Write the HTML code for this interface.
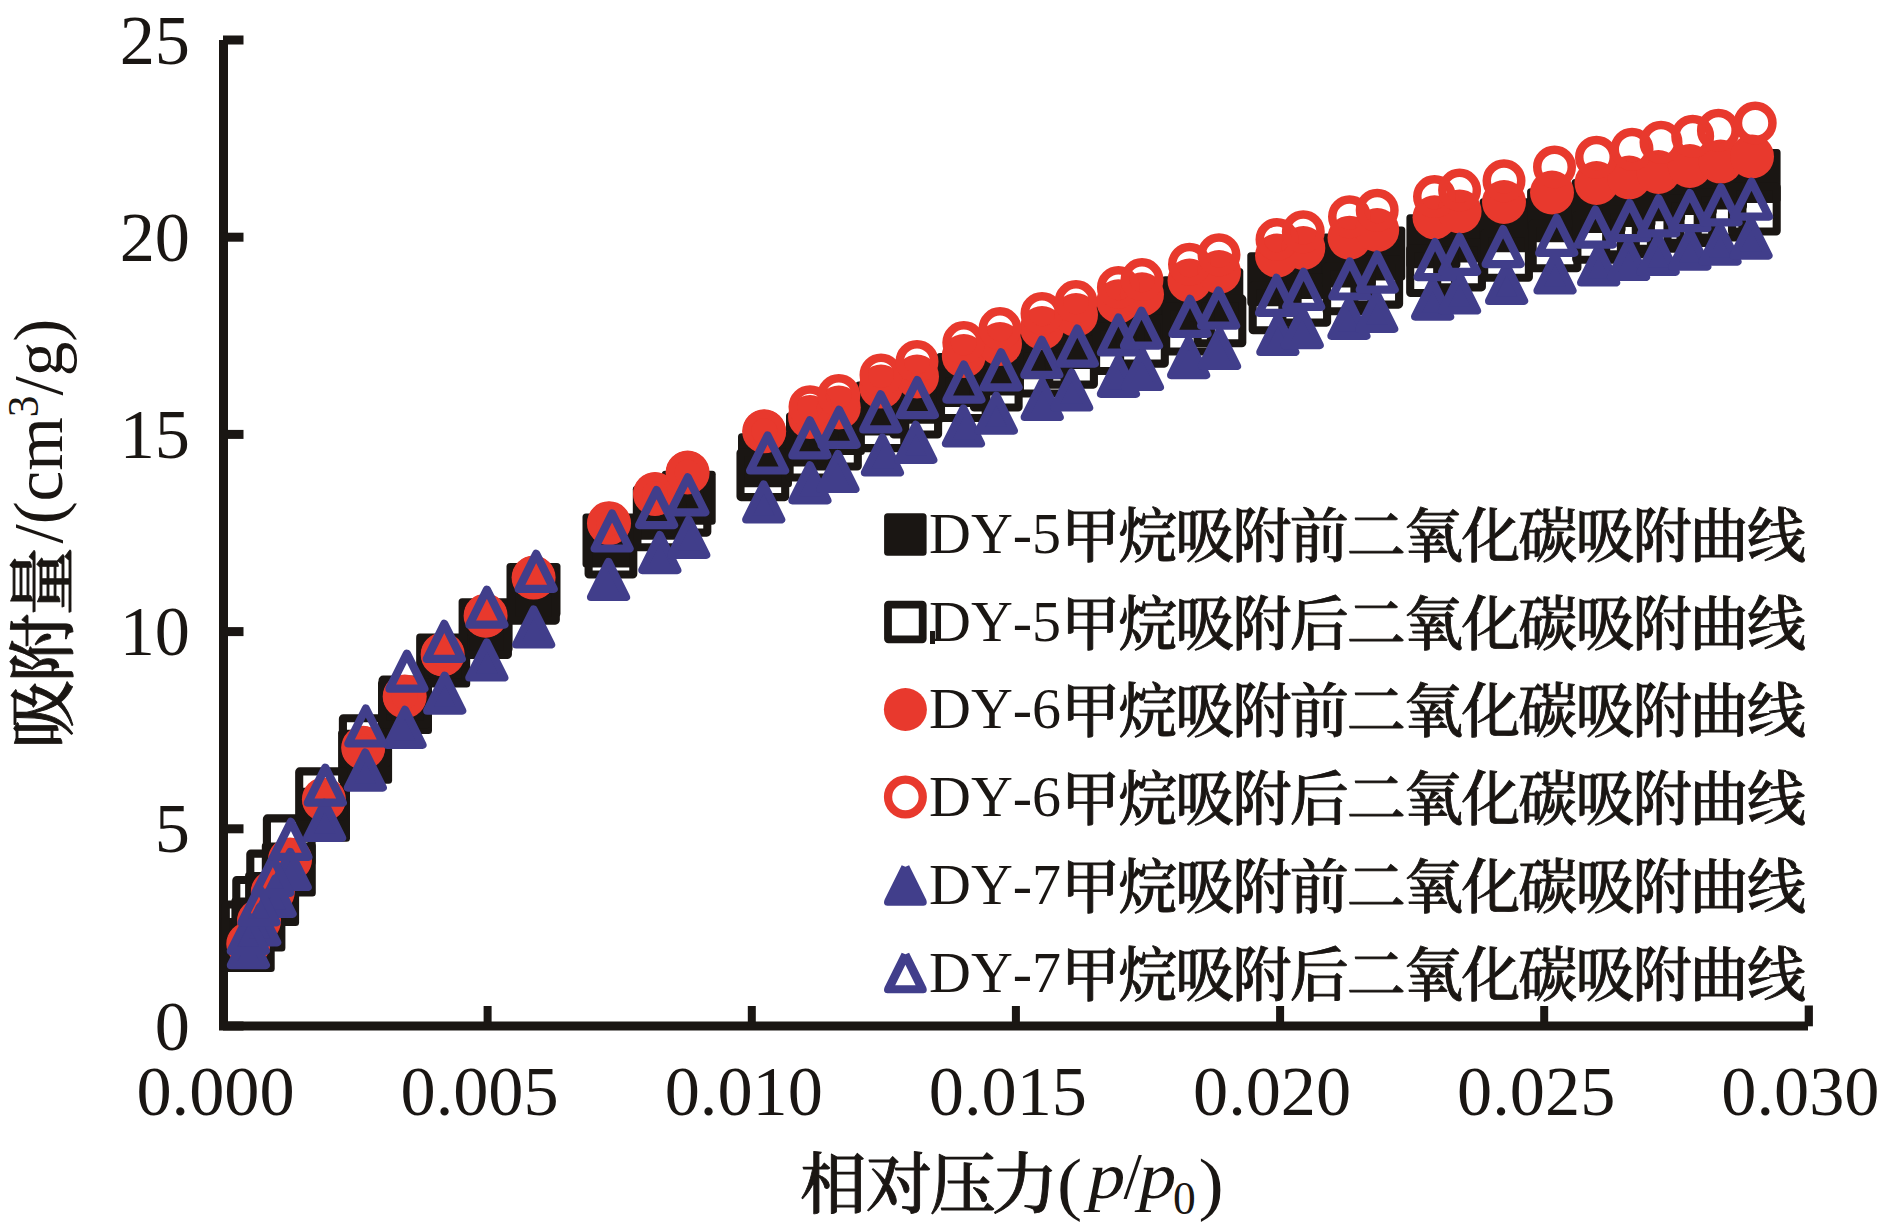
<!DOCTYPE html>
<html lang="zh"><head><meta charset="utf-8"><title>吸附曲线</title>
<style>
html,body{margin:0;padding:0;background:#fff;}
body{width:1890px;height:1226px;overflow:hidden;}
svg{display:block;}
text{fill:#1a1613;font-family:"Liberation Serif","Noto Serif CJK SC",serif;}
.cjk{font-family:"Liberation Serif","Noto Serif CJK SC",serif;font-weight:500;stroke:#1a1613;stroke-width:0.9px;stroke-linejoin:round;}
</style></head><body>
<svg width="1890" height="1226" viewBox="0 0 1890 1226">
<rect width="1890" height="1226" fill="#fff"/>

<g fill="#1a1613">
<rect x="219" y="40" width="9" height="990"/>
<rect x="219" y="1021.5" width="1589" height="9"/>
<rect x="223" y="1021.5" width="20.5" height="9"/>
<rect x="223" y="824.3" width="20.5" height="9"/>
<rect x="223" y="627.1" width="20.5" height="9"/>
<rect x="223" y="429.9" width="20.5" height="9"/>
<rect x="223" y="232.7" width="20.5" height="9"/>
<rect x="223" y="35.5" width="20.5" height="9"/>
<rect x="483.6" y="1006" width="8" height="20"/>
<rect x="747.8" y="1006" width="8" height="20"/>
<rect x="1011.9" y="1006" width="8" height="20"/>
<rect x="1276.1" y="1006" width="8" height="20"/>
<rect x="1540.2" y="1006" width="8" height="20"/>
<rect x="1804.7" y="1005.5" width="8.2" height="20.8"/>
</g>
<g font-size="70.3" text-anchor="end">
<text x="190" y="1049.5">0</text>
<text x="190" y="852.3">5</text>
<text x="190" y="655.1">10</text>
<text x="190" y="457.9">15</text>
<text x="190" y="260.7">20</text>
<text x="190" y="63.5">25</text>
</g>
<g font-size="70.3" text-anchor="middle">
<text x="215.5" y="1114.5">0.000</text>
<text x="479.6" y="1114.5">0.005</text>
<text x="743.8" y="1114.5">0.010</text>
<text x="1007.9" y="1114.5">0.015</text>
<text x="1272.1" y="1114.5">0.020</text>
<text x="1536.2" y="1114.5">0.025</text>
<text x="1800.4" y="1114.5">0.030</text>
</g>
<g>
<rect x="220.7" y="917.9" width="54.0" height="54.0" rx="3.5" fill="#1a1613"/>
<rect x="231.4" y="897.4" width="54.0" height="54.0" rx="3.5" fill="#1a1613"/>
<rect x="245.1" y="871.9" width="54.0" height="54.0" rx="3.5" fill="#1a1613"/>
<rect x="261.8" y="842.6" width="54.0" height="54.0" rx="3.5" fill="#1a1613"/>
<rect x="296.0" y="787.8" width="54.0" height="54.0" rx="3.5" fill="#1a1613"/>
<rect x="338.1" y="729.8" width="54.0" height="54.0" rx="3.5" fill="#1a1613"/>
<rect x="378.0" y="679.9" width="54.0" height="54.0" rx="3.5" fill="#1a1613"/>
<rect x="416.2" y="633.5" width="54.0" height="54.0" rx="3.5" fill="#1a1613"/>
<rect x="458.6" y="598.2" width="54.0" height="54.0" rx="3.5" fill="#1a1613"/>
<rect x="506.5" y="563.0" width="54.0" height="54.0" rx="3.5" fill="#1a1613"/>
<rect x="582.5" y="513.6" width="54.0" height="54.0" rx="3.5" fill="#1a1613"/>
<rect x="632.8" y="485.8" width="54.0" height="54.0" rx="3.5" fill="#1a1613"/>
<rect x="661.7" y="470.8" width="54.0" height="54.0" rx="3.5" fill="#1a1613"/>
<rect x="738.0" y="433.2" width="54.0" height="54.0" rx="3.5" fill="#1a1613"/>
<rect x="786.0" y="412.5" width="54.0" height="54.0" rx="3.5" fill="#1a1613"/>
<rect x="810.9" y="401.1" width="54.0" height="54.0" rx="3.5" fill="#1a1613"/>
<rect x="855.4" y="381.6" width="54.0" height="54.0" rx="3.5" fill="#1a1613"/>
<rect x="888.8" y="369.8" width="54.0" height="54.0" rx="3.5" fill="#1a1613"/>
<rect x="936.4" y="353.1" width="54.0" height="54.0" rx="3.5" fill="#1a1613"/>
<rect x="969.3" y="341.4" width="54.0" height="54.0" rx="3.5" fill="#1a1613"/>
<rect x="1015.2" y="325.2" width="54.0" height="54.0" rx="3.5" fill="#1a1613"/>
<rect x="1044.6" y="314.9" width="54.0" height="54.0" rx="3.5" fill="#1a1613"/>
<rect x="1091.4" y="298.9" width="54.0" height="54.0" rx="3.5" fill="#1a1613"/>
<rect x="1115.4" y="290.9" width="54.0" height="54.0" rx="3.5" fill="#1a1613"/>
<rect x="1161.6" y="276.2" width="54.0" height="54.0" rx="3.5" fill="#1a1613"/>
<rect x="1189.3" y="267.9" width="54.0" height="54.0" rx="3.5" fill="#1a1613"/>
<rect x="1247.3" y="252.2" width="54.0" height="54.0" rx="3.5" fill="#1a1613"/>
<rect x="1275.2" y="245.0" width="54.0" height="54.0" rx="3.5" fill="#1a1613"/>
<rect x="1321.9" y="233.5" width="54.0" height="54.0" rx="3.5" fill="#1a1613"/>
<rect x="1351.3" y="226.5" width="54.0" height="54.0" rx="3.5" fill="#1a1613"/>
<rect x="1406.4" y="214.2" width="54.0" height="54.0" rx="3.5" fill="#1a1613"/>
<rect x="1432.5" y="208.5" width="54.0" height="54.0" rx="3.5" fill="#1a1613"/>
<rect x="1479.6" y="198.2" width="54.0" height="54.0" rx="3.5" fill="#1a1613"/>
<rect x="1527.1" y="188.2" width="54.0" height="54.0" rx="3.5" fill="#1a1613"/>
<rect x="1571.6" y="179.1" width="54.0" height="54.0" rx="3.5" fill="#1a1613"/>
<rect x="1601.5" y="173.1" width="54.0" height="54.0" rx="3.5" fill="#1a1613"/>
<rect x="1631.1" y="167.3" width="54.0" height="54.0" rx="3.5" fill="#1a1613"/>
<rect x="1662.8" y="161.1" width="54.0" height="54.0" rx="3.5" fill="#1a1613"/>
<rect x="1693.0" y="155.4" width="54.0" height="54.0" rx="3.5" fill="#1a1613"/>
<rect x="1726.6" y="149.1" width="54.0" height="54.0" rx="3.5" fill="#1a1613"/>
<rect x="225.8" y="904.5" width="44.7" height="44.7" rx="0.5" fill="none" stroke="#1a1613" stroke-width="8.1"/>
<rect x="236.3" y="880.0" width="44.7" height="44.7" rx="0.5" fill="none" stroke="#1a1613" stroke-width="8.1"/>
<rect x="250.3" y="853.6" width="44.7" height="44.7" rx="0.5" fill="none" stroke="#1a1613" stroke-width="8.1"/>
<rect x="266.9" y="818.4" width="44.7" height="44.7" rx="0.5" fill="none" stroke="#1a1613" stroke-width="8.1"/>
<rect x="299.2" y="771.4" width="44.7" height="44.7" rx="0.5" fill="none" stroke="#1a1613" stroke-width="8.1"/>
<rect x="342.9" y="718.2" width="44.7" height="44.7" rx="0.5" fill="none" stroke="#1a1613" stroke-width="8.1"/>
<rect x="382.6" y="679.6" width="44.7" height="44.7" rx="0.5" fill="none" stroke="#1a1613" stroke-width="8.1"/>
<rect x="420.8" y="638.1" width="44.7" height="44.7" rx="0.5" fill="none" stroke="#1a1613" stroke-width="8.1"/>
<rect x="463.2" y="610.2" width="44.7" height="44.7" rx="0.5" fill="none" stroke="#1a1613" stroke-width="8.1"/>
<rect x="511.1" y="575.9" width="44.7" height="44.7" rx="0.5" fill="none" stroke="#1a1613" stroke-width="8.1"/>
<rect x="588.6" y="529.8" width="44.7" height="44.7" rx="0.5" fill="none" stroke="#1a1613" stroke-width="8.1"/>
<rect x="637.4" y="502.5" width="44.7" height="44.7" rx="0.5" fill="none" stroke="#1a1613" stroke-width="8.1"/>
<rect x="662.6" y="487.9" width="44.7" height="44.7" rx="0.5" fill="none" stroke="#1a1613" stroke-width="8.1"/>
<rect x="740.5" y="452.4" width="44.7" height="44.7" rx="0.5" fill="none" stroke="#1a1613" stroke-width="8.1"/>
<rect x="789.6" y="432.8" width="44.7" height="44.7" rx="0.5" fill="none" stroke="#1a1613" stroke-width="8.1"/>
<rect x="813.1" y="421.8" width="44.7" height="44.7" rx="0.5" fill="none" stroke="#1a1613" stroke-width="8.1"/>
<rect x="859.6" y="403.4" width="44.7" height="44.7" rx="0.5" fill="none" stroke="#1a1613" stroke-width="8.1"/>
<rect x="893.4" y="389.8" width="44.7" height="44.7" rx="0.5" fill="none" stroke="#1a1613" stroke-width="8.1"/>
<rect x="941.0" y="373.3" width="44.7" height="44.7" rx="0.5" fill="none" stroke="#1a1613" stroke-width="8.1"/>
<rect x="973.9" y="362.8" width="44.7" height="44.7" rx="0.5" fill="none" stroke="#1a1613" stroke-width="8.1"/>
<rect x="1019.9" y="348.8" width="44.7" height="44.7" rx="0.5" fill="none" stroke="#1a1613" stroke-width="8.1"/>
<rect x="1049.2" y="339.9" width="44.7" height="44.7" rx="0.5" fill="none" stroke="#1a1613" stroke-width="8.1"/>
<rect x="1096.1" y="326.3" width="44.7" height="44.7" rx="0.5" fill="none" stroke="#1a1613" stroke-width="8.1"/>
<rect x="1120.1" y="318.9" width="44.7" height="44.7" rx="0.5" fill="none" stroke="#1a1613" stroke-width="8.1"/>
<rect x="1166.2" y="306.8" width="44.7" height="44.7" rx="0.5" fill="none" stroke="#1a1613" stroke-width="8.1"/>
<rect x="1197.6" y="298.6" width="44.7" height="44.7" rx="0.5" fill="none" stroke="#1a1613" stroke-width="8.1"/>
<rect x="1252.7" y="285.6" width="44.7" height="44.7" rx="0.5" fill="none" stroke="#1a1613" stroke-width="8.1"/>
<rect x="1282.4" y="277.9" width="44.7" height="44.7" rx="0.5" fill="none" stroke="#1a1613" stroke-width="8.1"/>
<rect x="1326.6" y="266.6" width="44.7" height="44.7" rx="0.5" fill="none" stroke="#1a1613" stroke-width="8.1"/>
<rect x="1354.4" y="259.9" width="44.7" height="44.7" rx="0.5" fill="none" stroke="#1a1613" stroke-width="8.1"/>
<rect x="1410.2" y="248.3" width="44.7" height="44.7" rx="0.5" fill="none" stroke="#1a1613" stroke-width="8.1"/>
<rect x="1437.2" y="242.7" width="44.7" height="44.7" rx="0.5" fill="none" stroke="#1a1613" stroke-width="8.1"/>
<rect x="1484.2" y="233.1" width="44.7" height="44.7" rx="0.5" fill="none" stroke="#1a1613" stroke-width="8.1"/>
<rect x="1532.7" y="223.5" width="44.7" height="44.7" rx="0.5" fill="none" stroke="#1a1613" stroke-width="8.1"/>
<rect x="1576.2" y="215.1" width="44.7" height="44.7" rx="0.5" fill="none" stroke="#1a1613" stroke-width="8.1"/>
<rect x="1606.2" y="209.5" width="44.7" height="44.7" rx="0.5" fill="none" stroke="#1a1613" stroke-width="8.1"/>
<rect x="1635.8" y="204.0" width="44.7" height="44.7" rx="0.5" fill="none" stroke="#1a1613" stroke-width="8.1"/>
<rect x="1667.5" y="198.2" width="44.7" height="44.7" rx="0.5" fill="none" stroke="#1a1613" stroke-width="8.1"/>
<rect x="1697.7" y="192.8" width="44.7" height="44.7" rx="0.5" fill="none" stroke="#1a1613" stroke-width="8.1"/>
<rect x="1732.0" y="186.8" width="44.7" height="44.7" rx="0.5" fill="none" stroke="#1a1613" stroke-width="8.1"/>
<circle cx="248.3" cy="944.0" r="22.0" fill="#e8392d"/>
<circle cx="259.0" cy="921.0" r="22.0" fill="#e8392d"/>
<circle cx="272.8" cy="892.0" r="22.0" fill="#e8392d"/>
<circle cx="290.0" cy="859.5" r="22.0" fill="#e8392d"/>
<circle cx="323.9" cy="799.4" r="22.0" fill="#e8392d"/>
<circle cx="363.2" cy="747.8" r="22.0" fill="#e8392d"/>
<circle cx="404.7" cy="696.4" r="22.0" fill="#e8392d"/>
<circle cx="442.7" cy="654.5" r="22.0" fill="#e8392d"/>
<circle cx="485.6" cy="615.7" r="22.0" fill="#e8392d"/>
<circle cx="533.6" cy="577.6" r="22.0" fill="#e8392d"/>
<circle cx="609.0" cy="523.2" r="22.0" fill="#e8392d"/>
<circle cx="655.0" cy="494.0" r="22.0" fill="#e8392d"/>
<circle cx="687.6" cy="472.5" r="22.0" fill="#e8392d"/>
<circle cx="764.2" cy="431.3" r="22.0" fill="#e8392d"/>
<circle cx="810.0" cy="417.0" r="22.0" fill="#e8392d"/>
<circle cx="838.8" cy="407.5" r="22.0" fill="#e8392d"/>
<circle cx="881.0" cy="386.6" r="22.0" fill="#e8392d"/>
<circle cx="917.0" cy="376.5" r="22.0" fill="#e8392d"/>
<circle cx="963.8" cy="356.0" r="22.0" fill="#e8392d"/>
<circle cx="1000.0" cy="344.0" r="22.0" fill="#e8392d"/>
<circle cx="1042.0" cy="328.0" r="22.0" fill="#e8392d"/>
<circle cx="1076.0" cy="315.0" r="22.0" fill="#e8392d"/>
<circle cx="1118.4" cy="301.3" r="22.0" fill="#e8392d"/>
<circle cx="1142.0" cy="294.3" r="22.0" fill="#e8392d"/>
<circle cx="1189.5" cy="280.5" r="22.0" fill="#e8392d"/>
<circle cx="1219.0" cy="272.0" r="22.0" fill="#e8392d"/>
<circle cx="1277.0" cy="255.6" r="22.0" fill="#e8392d"/>
<circle cx="1303.3" cy="248.0" r="22.0" fill="#e8392d"/>
<circle cx="1349.5" cy="237.7" r="22.0" fill="#e8392d"/>
<circle cx="1377.2" cy="230.0" r="22.0" fill="#e8392d"/>
<circle cx="1434.5" cy="217.3" r="22.0" fill="#e8392d"/>
<circle cx="1459.6" cy="211.4" r="22.0" fill="#e8392d"/>
<circle cx="1504.0" cy="202.0" r="22.0" fill="#e8392d"/>
<circle cx="1552.0" cy="192.5" r="22.0" fill="#e8392d"/>
<circle cx="1596.5" cy="183.0" r="22.0" fill="#e8392d"/>
<circle cx="1629.2" cy="177.5" r="22.0" fill="#e8392d"/>
<circle cx="1658.4" cy="172.0" r="22.0" fill="#e8392d"/>
<circle cx="1689.8" cy="166.0" r="22.0" fill="#e8392d"/>
<circle cx="1720.6" cy="161.6" r="22.0" fill="#e8392d"/>
<circle cx="1752.0" cy="156.5" r="22.0" fill="#e8392d"/>
<circle cx="248.3" cy="944.0" r="17.25" fill="none" stroke="#e8392d" stroke-width="8.5"/>
<circle cx="259.0" cy="921.0" r="17.25" fill="none" stroke="#e8392d" stroke-width="8.5"/>
<circle cx="272.8" cy="892.0" r="17.25" fill="none" stroke="#e8392d" stroke-width="8.5"/>
<circle cx="290.0" cy="859.5" r="17.25" fill="none" stroke="#e8392d" stroke-width="8.5"/>
<circle cx="323.9" cy="799.4" r="17.25" fill="none" stroke="#e8392d" stroke-width="8.5"/>
<circle cx="363.2" cy="747.8" r="17.25" fill="none" stroke="#e8392d" stroke-width="8.5"/>
<circle cx="404.7" cy="696.4" r="17.25" fill="none" stroke="#e8392d" stroke-width="8.5"/>
<circle cx="442.7" cy="654.5" r="17.25" fill="none" stroke="#e8392d" stroke-width="8.5"/>
<circle cx="485.6" cy="615.7" r="17.25" fill="none" stroke="#e8392d" stroke-width="8.5"/>
<circle cx="533.6" cy="577.6" r="17.25" fill="none" stroke="#e8392d" stroke-width="8.5"/>
<circle cx="609.0" cy="523.2" r="17.25" fill="none" stroke="#e8392d" stroke-width="8.5"/>
<circle cx="655.0" cy="494.0" r="17.25" fill="none" stroke="#e8392d" stroke-width="8.5"/>
<circle cx="687.6" cy="472.5" r="17.25" fill="none" stroke="#e8392d" stroke-width="8.5"/>
<circle cx="764.2" cy="431.3" r="17.25" fill="none" stroke="#e8392d" stroke-width="8.5"/>
<circle cx="810.0" cy="406.8" r="17.25" fill="none" stroke="#e8392d" stroke-width="8.5"/>
<circle cx="838.8" cy="395.4" r="17.25" fill="none" stroke="#e8392d" stroke-width="8.5"/>
<circle cx="881.0" cy="375.0" r="17.25" fill="none" stroke="#e8392d" stroke-width="8.5"/>
<circle cx="917.0" cy="361.4" r="17.25" fill="none" stroke="#e8392d" stroke-width="8.5"/>
<circle cx="963.8" cy="342.6" r="17.25" fill="none" stroke="#e8392d" stroke-width="8.5"/>
<circle cx="1000.0" cy="328.6" r="17.25" fill="none" stroke="#e8392d" stroke-width="8.5"/>
<circle cx="1042.0" cy="313.4" r="17.25" fill="none" stroke="#e8392d" stroke-width="8.5"/>
<circle cx="1076.0" cy="301.6" r="17.25" fill="none" stroke="#e8392d" stroke-width="8.5"/>
<circle cx="1118.4" cy="287.4" r="17.25" fill="none" stroke="#e8392d" stroke-width="8.5"/>
<circle cx="1142.0" cy="279.6" r="17.25" fill="none" stroke="#e8392d" stroke-width="8.5"/>
<circle cx="1189.5" cy="264.2" r="17.25" fill="none" stroke="#e8392d" stroke-width="8.5"/>
<circle cx="1219.0" cy="254.8" r="17.25" fill="none" stroke="#e8392d" stroke-width="8.5"/>
<circle cx="1277.0" cy="239.4" r="17.25" fill="none" stroke="#e8392d" stroke-width="8.5"/>
<circle cx="1303.3" cy="231.8" r="17.25" fill="none" stroke="#e8392d" stroke-width="8.5"/>
<circle cx="1349.5" cy="216.8" r="17.25" fill="none" stroke="#e8392d" stroke-width="8.5"/>
<circle cx="1377.2" cy="210.2" r="17.25" fill="none" stroke="#e8392d" stroke-width="8.5"/>
<circle cx="1434.5" cy="196.6" r="17.25" fill="none" stroke="#e8392d" stroke-width="8.5"/>
<circle cx="1459.6" cy="190.1" r="17.25" fill="none" stroke="#e8392d" stroke-width="8.5"/>
<circle cx="1504.0" cy="180.7" r="17.25" fill="none" stroke="#e8392d" stroke-width="8.5"/>
<circle cx="1554.5" cy="166.9" r="17.25" fill="none" stroke="#e8392d" stroke-width="8.5"/>
<circle cx="1596.5" cy="157.2" r="17.25" fill="none" stroke="#e8392d" stroke-width="8.5"/>
<circle cx="1632.0" cy="149.2" r="17.25" fill="none" stroke="#e8392d" stroke-width="8.5"/>
<circle cx="1661.0" cy="142.2" r="17.25" fill="none" stroke="#e8392d" stroke-width="8.5"/>
<circle cx="1692.7" cy="136.2" r="17.25" fill="none" stroke="#e8392d" stroke-width="8.5"/>
<circle cx="1718.4" cy="130.2" r="17.25" fill="none" stroke="#e8392d" stroke-width="8.5"/>
<circle cx="1755.2" cy="122.9" r="17.25" fill="none" stroke="#e8392d" stroke-width="8.5"/>
<path d="M248.40 930.20L265.90 965.20L230.90 965.20Z" fill="#413e8b" stroke="#413e8b" stroke-width="8.2" stroke-linejoin="round"/>
<path d="M259.70 907.40L277.20 942.40L242.20 942.40Z" fill="#413e8b" stroke="#413e8b" stroke-width="8.2" stroke-linejoin="round"/>
<path d="M275.10 878.80L292.60 913.80L257.60 913.80Z" fill="#413e8b" stroke="#413e8b" stroke-width="8.2" stroke-linejoin="round"/>
<path d="M290.20 852.00L307.70 887.00L272.70 887.00Z" fill="#413e8b" stroke="#413e8b" stroke-width="8.2" stroke-linejoin="round"/>
<path d="M324.60 802.80L342.10 837.80L307.10 837.80Z" fill="#413e8b" stroke="#413e8b" stroke-width="8.2" stroke-linejoin="round"/>
<path d="M365.30 752.60L382.80 787.60L347.80 787.60Z" fill="#413e8b" stroke="#413e8b" stroke-width="8.2" stroke-linejoin="round"/>
<path d="M405.00 709.90L422.50 744.90L387.50 744.90Z" fill="#413e8b" stroke="#413e8b" stroke-width="8.2" stroke-linejoin="round"/>
<path d="M444.70 675.70L462.20 710.70L427.20 710.70Z" fill="#413e8b" stroke="#413e8b" stroke-width="8.2" stroke-linejoin="round"/>
<path d="M486.80 642.50L504.30 677.50L469.30 677.50Z" fill="#413e8b" stroke="#413e8b" stroke-width="8.2" stroke-linejoin="round"/>
<path d="M533.60 609.50L551.10 644.50L516.10 644.50Z" fill="#413e8b" stroke="#413e8b" stroke-width="8.2" stroke-linejoin="round"/>
<path d="M608.50 562.00L626.00 597.00L591.00 597.00Z" fill="#413e8b" stroke="#413e8b" stroke-width="8.2" stroke-linejoin="round"/>
<path d="M659.80 535.10L677.30 570.10L642.30 570.10Z" fill="#413e8b" stroke="#413e8b" stroke-width="8.2" stroke-linejoin="round"/>
<path d="M688.70 519.90L706.20 554.90L671.20 554.90Z" fill="#413e8b" stroke="#413e8b" stroke-width="8.2" stroke-linejoin="round"/>
<path d="M763.70 484.50L781.20 519.50L746.20 519.50Z" fill="#413e8b" stroke="#413e8b" stroke-width="8.2" stroke-linejoin="round"/>
<path d="M809.90 465.30L827.40 500.30L792.40 500.30Z" fill="#413e8b" stroke="#413e8b" stroke-width="8.2" stroke-linejoin="round"/>
<path d="M837.90 454.00L855.40 489.00L820.40 489.00Z" fill="#413e8b" stroke="#413e8b" stroke-width="8.2" stroke-linejoin="round"/>
<path d="M882.40 437.50L899.90 472.50L864.90 472.50Z" fill="#413e8b" stroke="#413e8b" stroke-width="8.2" stroke-linejoin="round"/>
<path d="M915.80 424.90L933.30 459.90L898.30 459.90Z" fill="#413e8b" stroke="#413e8b" stroke-width="8.2" stroke-linejoin="round"/>
<path d="M963.40 408.50L980.90 443.50L945.90 443.50Z" fill="#413e8b" stroke="#413e8b" stroke-width="8.2" stroke-linejoin="round"/>
<path d="M996.30 395.70L1013.80 430.70L978.80 430.70Z" fill="#413e8b" stroke="#413e8b" stroke-width="8.2" stroke-linejoin="round"/>
<path d="M1042.20 382.00L1059.70 417.00L1024.70 417.00Z" fill="#413e8b" stroke="#413e8b" stroke-width="8.2" stroke-linejoin="round"/>
<path d="M1071.60 372.50L1089.10 407.50L1054.10 407.50Z" fill="#413e8b" stroke="#413e8b" stroke-width="8.2" stroke-linejoin="round"/>
<path d="M1118.40 358.80L1135.90 393.80L1100.90 393.80Z" fill="#413e8b" stroke="#413e8b" stroke-width="8.2" stroke-linejoin="round"/>
<path d="M1142.40 352.00L1159.90 387.00L1124.90 387.00Z" fill="#413e8b" stroke="#413e8b" stroke-width="8.2" stroke-linejoin="round"/>
<path d="M1188.60 340.10L1206.10 375.10L1171.10 375.10Z" fill="#413e8b" stroke="#413e8b" stroke-width="8.2" stroke-linejoin="round"/>
<path d="M1219.50 331.00L1237.00 366.00L1202.00 366.00Z" fill="#413e8b" stroke="#413e8b" stroke-width="8.2" stroke-linejoin="round"/>
<path d="M1277.80 317.00L1295.30 352.00L1260.30 352.00Z" fill="#413e8b" stroke="#413e8b" stroke-width="8.2" stroke-linejoin="round"/>
<path d="M1302.20 310.20L1319.70 345.20L1284.70 345.20Z" fill="#413e8b" stroke="#413e8b" stroke-width="8.2" stroke-linejoin="round"/>
<path d="M1348.90 300.80L1366.40 335.80L1331.40 335.80Z" fill="#413e8b" stroke="#413e8b" stroke-width="8.2" stroke-linejoin="round"/>
<path d="M1376.70 293.90L1394.20 328.90L1359.20 328.90Z" fill="#413e8b" stroke="#413e8b" stroke-width="8.2" stroke-linejoin="round"/>
<path d="M1432.60 281.60L1450.10 316.60L1415.10 316.60Z" fill="#413e8b" stroke="#413e8b" stroke-width="8.2" stroke-linejoin="round"/>
<path d="M1459.50 275.50L1477.00 310.50L1442.00 310.50Z" fill="#413e8b" stroke="#413e8b" stroke-width="8.2" stroke-linejoin="round"/>
<path d="M1506.60 265.90L1524.10 300.90L1489.10 300.90Z" fill="#413e8b" stroke="#413e8b" stroke-width="8.2" stroke-linejoin="round"/>
<path d="M1555.00 255.50L1572.50 290.50L1537.50 290.50Z" fill="#413e8b" stroke="#413e8b" stroke-width="8.2" stroke-linejoin="round"/>
<path d="M1598.60 247.50L1616.10 282.50L1581.10 282.50Z" fill="#413e8b" stroke="#413e8b" stroke-width="8.2" stroke-linejoin="round"/>
<path d="M1628.50 242.00L1646.00 277.00L1611.00 277.00Z" fill="#413e8b" stroke="#413e8b" stroke-width="8.2" stroke-linejoin="round"/>
<path d="M1658.10 236.90L1675.60 271.90L1640.60 271.90Z" fill="#413e8b" stroke="#413e8b" stroke-width="8.2" stroke-linejoin="round"/>
<path d="M1689.80 231.70L1707.30 266.70L1672.30 266.70Z" fill="#413e8b" stroke="#413e8b" stroke-width="8.2" stroke-linejoin="round"/>
<path d="M1720.00 226.70L1737.50 261.70L1702.50 261.70Z" fill="#413e8b" stroke="#413e8b" stroke-width="8.2" stroke-linejoin="round"/>
<path d="M1751.00 220.70L1768.50 255.70L1733.50 255.70Z" fill="#413e8b" stroke="#413e8b" stroke-width="8.2" stroke-linejoin="round"/>
<path d="M248.30 915.90L265.80 950.90L230.80 950.90Z" fill="none" stroke="#413e8b" stroke-width="8.2" stroke-linejoin="round"/>
<path d="M259.00 887.40L276.50 922.40L241.50 922.40Z" fill="none" stroke="#413e8b" stroke-width="8.2" stroke-linejoin="round"/>
<path d="M272.80 857.90L290.30 892.90L255.30 892.90Z" fill="none" stroke="#413e8b" stroke-width="8.2" stroke-linejoin="round"/>
<path d="M290.90 821.90L308.40 856.90L273.40 856.90Z" fill="none" stroke="#413e8b" stroke-width="8.2" stroke-linejoin="round"/>
<path d="M325.30 767.70L342.80 802.70L307.80 802.70Z" fill="none" stroke="#413e8b" stroke-width="8.2" stroke-linejoin="round"/>
<path d="M365.80 708.50L383.30 743.50L348.30 743.50Z" fill="none" stroke="#413e8b" stroke-width="8.2" stroke-linejoin="round"/>
<path d="M406.90 653.70L424.40 688.70L389.40 688.70Z" fill="none" stroke="#413e8b" stroke-width="8.2" stroke-linejoin="round"/>
<path d="M444.30 623.90L461.80 658.90L426.80 658.90Z" fill="none" stroke="#413e8b" stroke-width="8.2" stroke-linejoin="round"/>
<path d="M486.90 589.70L504.40 624.70L469.40 624.70Z" fill="none" stroke="#413e8b" stroke-width="8.2" stroke-linejoin="round"/>
<path d="M536.20 553.90L553.70 588.90L518.70 588.90Z" fill="none" stroke="#413e8b" stroke-width="8.2" stroke-linejoin="round"/>
<path d="M612.10 513.50L629.60 548.50L594.60 548.50Z" fill="none" stroke="#413e8b" stroke-width="8.2" stroke-linejoin="round"/>
<path d="M656.60 490.10L674.10 525.10L639.10 525.10Z" fill="none" stroke="#413e8b" stroke-width="8.2" stroke-linejoin="round"/>
<path d="M687.80 477.30L705.30 512.30L670.30 512.30Z" fill="none" stroke="#413e8b" stroke-width="8.2" stroke-linejoin="round"/>
<path d="M767.60 435.50L785.10 470.50L750.10 470.50Z" fill="none" stroke="#413e8b" stroke-width="8.2" stroke-linejoin="round"/>
<path d="M809.90 420.40L827.40 455.40L792.40 455.40Z" fill="none" stroke="#413e8b" stroke-width="8.2" stroke-linejoin="round"/>
<path d="M839.10 409.90L856.60 444.90L821.60 444.90Z" fill="none" stroke="#413e8b" stroke-width="8.2" stroke-linejoin="round"/>
<path d="M880.70 394.40L898.20 429.40L863.20 429.40Z" fill="none" stroke="#413e8b" stroke-width="8.2" stroke-linejoin="round"/>
<path d="M917.30 380.10L934.80 415.10L899.80 415.10Z" fill="none" stroke="#413e8b" stroke-width="8.2" stroke-linejoin="round"/>
<path d="M963.90 364.60L981.40 399.60L946.40 399.60Z" fill="none" stroke="#413e8b" stroke-width="8.2" stroke-linejoin="round"/>
<path d="M1001.10 352.30L1018.60 387.30L983.60 387.30Z" fill="none" stroke="#413e8b" stroke-width="8.2" stroke-linejoin="round"/>
<path d="M1041.80 339.90L1059.30 374.90L1024.30 374.90Z" fill="none" stroke="#413e8b" stroke-width="8.2" stroke-linejoin="round"/>
<path d="M1077.30 328.60L1094.80 363.60L1059.80 363.60Z" fill="none" stroke="#413e8b" stroke-width="8.2" stroke-linejoin="round"/>
<path d="M1118.40 317.50L1135.90 352.50L1100.90 352.50Z" fill="none" stroke="#413e8b" stroke-width="8.2" stroke-linejoin="round"/>
<path d="M1141.50 310.70L1159.00 345.70L1124.00 345.70Z" fill="none" stroke="#413e8b" stroke-width="8.2" stroke-linejoin="round"/>
<path d="M1190.00 298.90L1207.50 333.90L1172.50 333.90Z" fill="none" stroke="#413e8b" stroke-width="8.2" stroke-linejoin="round"/>
<path d="M1218.60 290.60L1236.10 325.60L1201.10 325.60Z" fill="none" stroke="#413e8b" stroke-width="8.2" stroke-linejoin="round"/>
<path d="M1276.50 277.80L1294.00 312.80L1259.00 312.80Z" fill="none" stroke="#413e8b" stroke-width="8.2" stroke-linejoin="round"/>
<path d="M1303.60 271.80L1321.10 306.80L1286.10 306.80Z" fill="none" stroke="#413e8b" stroke-width="8.2" stroke-linejoin="round"/>
<path d="M1349.80 261.50L1367.30 296.50L1332.30 296.50Z" fill="none" stroke="#413e8b" stroke-width="8.2" stroke-linejoin="round"/>
<path d="M1377.20 254.60L1394.70 289.60L1359.70 289.60Z" fill="none" stroke="#413e8b" stroke-width="8.2" stroke-linejoin="round"/>
<path d="M1435.10 242.10L1452.60 277.10L1417.60 277.10Z" fill="none" stroke="#413e8b" stroke-width="8.2" stroke-linejoin="round"/>
<path d="M1459.60 236.80L1477.10 271.80L1442.10 271.80Z" fill="none" stroke="#413e8b" stroke-width="8.2" stroke-linejoin="round"/>
<path d="M1503.10 229.10L1520.60 264.10L1485.60 264.10Z" fill="none" stroke="#413e8b" stroke-width="8.2" stroke-linejoin="round"/>
<path d="M1556.70 217.90L1574.20 252.90L1539.20 252.90Z" fill="none" stroke="#413e8b" stroke-width="8.2" stroke-linejoin="round"/>
<path d="M1595.40 209.60L1612.90 244.60L1577.90 244.60Z" fill="none" stroke="#413e8b" stroke-width="8.2" stroke-linejoin="round"/>
<path d="M1629.60 203.10L1647.10 238.10L1612.10 238.10Z" fill="none" stroke="#413e8b" stroke-width="8.2" stroke-linejoin="round"/>
<path d="M1658.60 198.40L1676.10 233.40L1641.10 233.40Z" fill="none" stroke="#413e8b" stroke-width="8.2" stroke-linejoin="round"/>
<path d="M1689.80 193.10L1707.30 228.10L1672.30 228.10Z" fill="none" stroke="#413e8b" stroke-width="8.2" stroke-linejoin="round"/>
<path d="M1721.00 187.40L1738.50 222.40L1703.50 222.40Z" fill="none" stroke="#413e8b" stroke-width="8.2" stroke-linejoin="round"/>
<path d="M1751.50 181.70L1769.00 216.70L1734.00 216.70Z" fill="none" stroke="#413e8b" stroke-width="8.2" stroke-linejoin="round"/>
</g>
<g>
<rect x="884.1" y="513.2" width="42.5" height="42.5" rx="3.5" fill="#1a1613"/>
<rect x="888.0" y="604.6" width="34.7" height="34.7" rx="0.5" fill="none" stroke="#1a1613" stroke-width="7.8"/>
<rect x="930" y="631" width="5" height="13" fill="#1a1613"/>
<circle cx="905.4" cy="709.5" r="21.5" fill="#e8392d"/>
<circle cx="905.4" cy="797.0" r="17.35" fill="none" stroke="#e8392d" stroke-width="8.3"/>
<path d="M901.70 865.35L905.40 866.65L909.10 865.35L926.00 899.15C927.50 902.65 926.90 905.65 923.30 905.65L887.50 905.65C883.90 905.65 883.30 902.65 884.80 899.15Z" fill="#413e8b"/>
<path d="M901.70 952.85L905.40 954.15L909.10 952.85L926.00 986.65C927.50 990.15 926.90 993.15 923.30 993.15L887.50 993.15C883.90 993.15 883.30 990.15 884.80 986.65ZM905.40 964.75L895.20 985.15L915.60 985.15Z" fill="#413e8b" fill-rule="evenodd"/>
</g>
<g font-size="56.5">
<text x="929" y="553.3" font-size="58" style="font-kerning:none">DY-5</text>
<text class="cjk" x="1061" y="557.1" font-size="59" textLength="745" lengthAdjust="spacing">甲烷吸附前二氧化碳吸附曲线</text>
<text x="929" y="640.8" font-size="58" style="font-kerning:none">DY-5</text>
<text class="cjk" x="1061" y="644.6" font-size="59" textLength="745" lengthAdjust="spacing">甲烷吸附后二氧化碳吸附曲线</text>
<text x="929" y="728.3" font-size="58" style="font-kerning:none">DY-6</text>
<text class="cjk" x="1061" y="732.1" font-size="59" textLength="745" lengthAdjust="spacing">甲烷吸附前二氧化碳吸附曲线</text>
<text x="929" y="815.8" font-size="58" style="font-kerning:none">DY-6</text>
<text class="cjk" x="1061" y="819.6" font-size="59" textLength="745" lengthAdjust="spacing">甲烷吸附后二氧化碳吸附曲线</text>
<text x="929" y="904.3" font-size="58" style="font-kerning:none">DY-7</text>
<text class="cjk" x="1061" y="908.1" font-size="59" textLength="745" lengthAdjust="spacing">甲烷吸附前二氧化碳吸附曲线</text>
<text x="929" y="991.8" font-size="58" style="font-kerning:none">DY-7</text>
<text class="cjk" x="1061" y="995.6" font-size="59" textLength="745" lengthAdjust="spacing">甲烷吸附后二氧化碳吸附曲线</text>
</g>
<text class="cjk" x="800 865.8 929.6 991.6" y="1207.5" font-size="66.5">相对压力</text>
<text x="1057" y="1207" font-size="70" transform="translate(1057 0) scale(1.08 1) translate(-1057 0)">(</text>
<text x="1088" y="1198" font-size="66" font-style="italic" transform="translate(1088 0) scale(1.13 1) translate(-1088 0)">p</text>
<text x="1123.5" y="1198" font-size="66">/</text>
<text x="1139" y="1198" font-size="66" font-style="italic" transform="translate(1139 0) scale(1.13 1) translate(-1139 0)">p</text>
<text x="1173" y="1214" font-size="45.5">0</text>
<text x="1198.5" y="1207" font-size="70" transform="translate(1198.5 0) scale(1.08 1) translate(-1198.5 0)">)</text>
<g transform="translate(61 748.5) rotate(-90)">
<text class="cjk" x="0" y="6" font-size="68.5" textLength="201.5" lengthAdjust="spacing">吸附量</text>
<g transform="translate(205 1) scale(0.985 1)"><text x="0" y="0" font-size="70">/(cm<tspan font-size="44" dy="-24">3</tspan><tspan dy="24">/g)</tspan></text></g>
</g>
</svg></body></html>
